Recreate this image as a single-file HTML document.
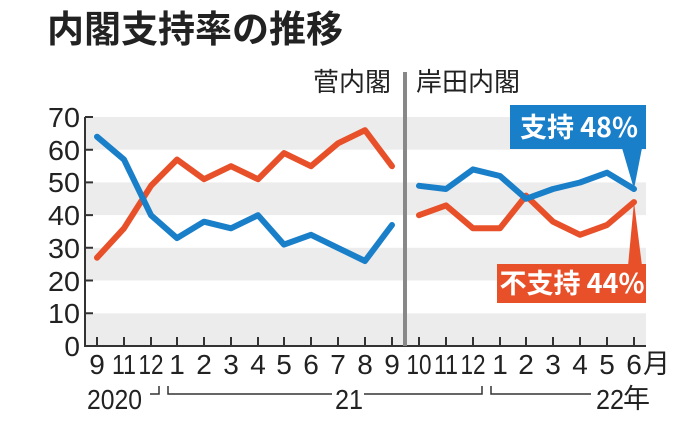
<!DOCTYPE html>
<html><head><meta charset="utf-8"><style>
html,body{margin:0;padding:0;background:#fff;}
svg{display:block;}
text{font-family:"Liberation Sans","Noto Sans CJK JP",sans-serif;fill:#222;}
.j{font-family:"Noto Sans CJK JP","Liberation Sans",sans-serif;}
</style></head><body>
<svg width="692" height="427" viewBox="0 0 692 427" xmlns="http://www.w3.org/2000/svg">
<rect width="692" height="427" fill="#fff"/>
<text x="47" y="42" class="j" font-size="37" font-weight="bold" fill="#222">内閣支持率の推移</text>
<text x="391" y="91" class="j" font-size="26" text-anchor="end">菅内閣</text>
<text x="416" y="91" class="j" font-size="26">岸田内閣</text>
<g fill="#ececec">
<rect x="86" y="117" width="560" height="32.7"/>
<rect x="86" y="182.4" width="560" height="32.7"/>
<rect x="86" y="247.8" width="560" height="32.7"/>
<rect x="86" y="313.3" width="560" height="32.7"/>
</g>
<g stroke="#333" stroke-width="2" fill="none">
<path d="M85 117 V346 H646"/>
<path d="M85 117h8M85 149.7h8M85 182.4h8M85 215.1h8M85 247.8h8M85 280.5h8M85 313.3h8"/>
<path d="M97 337v9M124 337v9M151 337v9M177 337v9M204 337v9M231 337v9M258 337v9M284 337v9M311 337v9M338 337v9M365 337v9M392 337v9M419 337v9M446 337v9M473 337v9M500 337v9M526 337v9M553 337v9M580 337v9M607 337v9M634 337v9"/>
</g>
<g font-size="28" text-anchor="end">
<text x="80" y="127" textLength="32" lengthAdjust="spacingAndGlyphs">70</text><text x="80" y="160" textLength="32" lengthAdjust="spacingAndGlyphs">60</text><text x="80" y="192" textLength="32" lengthAdjust="spacingAndGlyphs">50</text><text x="80" y="225" textLength="32" lengthAdjust="spacingAndGlyphs">40</text><text x="80" y="258" textLength="32" lengthAdjust="spacingAndGlyphs">30</text><text x="80" y="291" textLength="32" lengthAdjust="spacingAndGlyphs">20</text><text x="80" y="323" textLength="32" lengthAdjust="spacingAndGlyphs">10</text><text x="80" y="356">0</text>
</g>
<line x1="405" y1="72" x2="405" y2="346" stroke="#888" stroke-width="4"/>
<g font-size="28" text-anchor="middle">
<text x="97" y="374">9</text><text x="124" y="374" textLength="24" lengthAdjust="spacingAndGlyphs">11</text><text x="151" y="374" textLength="25" lengthAdjust="spacingAndGlyphs">12</text><text x="177" y="374">1</text><text x="204" y="374">2</text><text x="231" y="374">3</text><text x="258" y="374">4</text><text x="284" y="374">5</text><text x="311" y="374">6</text><text x="338" y="374">7</text><text x="365" y="374">8</text><text x="392" y="374">9</text><text x="419" y="374" textLength="25" lengthAdjust="spacingAndGlyphs">10</text><text x="446" y="374" textLength="24" lengthAdjust="spacingAndGlyphs">11</text><text x="473" y="374" textLength="25" lengthAdjust="spacingAndGlyphs">12</text><text x="500" y="374">1</text><text x="526" y="374">2</text><text x="553" y="374">3</text><text x="580" y="374">4</text><text x="607" y="374">5</text><text x="634" y="374">6</text>
</g>
<text x="643" y="373" font-size="27" class="j">月</text>
<text x="87" y="409" font-size="28" textLength="55" lengthAdjust="spacingAndGlyphs">2020</text>
<text x="335" y="409" font-size="28" textLength="28" lengthAdjust="spacingAndGlyphs">21</text>
<text x="596" y="409" font-size="28" textLength="28" lengthAdjust="spacingAndGlyphs">22</text>
<text x="623" y="408" font-size="27" class="j">年</text>
<g stroke="#333" stroke-width="1.5" fill="none">
<path d="M150 394h9v-8"/>
<path d="M168 386v8h164"/>
<path d="M364 394h118v-8"/>
<path d="M491 386v8h100"/>
</g>
<g fill="none" stroke-width="6" stroke-linejoin="round" stroke-linecap="round">
<polyline stroke="#e8502a" points="97,257.7 124,228.3 151,185.8 177,159.6 204,179.2 231,166.2 258,179.2 284,153.1 311,166.2 338,143.3 365,130.2 392,166.2"/>
<polyline stroke="#1a7fc9" points="97,136.7 124,159.6 151,215.2 177,238.1 204,221.7 231,228.3 258,215.2 284,244.6 311,234.8 338,247.9 365,261 392,225"/>
<polyline stroke="#e8502a" points="419,215.2 446,205.4 473,228.3 500,228.3 526,195.6 553,221.7 580,234.8 607,225 634,202.1"/>
<polyline stroke="#1a7fc9" points="419,185.8 446,189 473,169.4 500,176 526,198.8 553,189 580,182.5 607,172.7 634,189"/>
</g>
<rect x="510" y="105" width="136" height="44" fill="#1a7fc9"/>
<polygon points="622,148 642,148 634,189" fill="#1a7fc9"/>
<text x="579" y="137" font-size="27" font-weight="bold" text-anchor="middle" class="j" style="fill:#fff">支持 48%</text>
<rect x="497" y="264" width="149" height="39" fill="#e8502a"/>
<polygon points="628,266 642,266 634,202" fill="#e8502a"/>
<text x="572" y="293" font-size="27" font-weight="bold" text-anchor="middle" class="j" style="fill:#fff">不支持 44%</text>
</svg>
</body></html>
